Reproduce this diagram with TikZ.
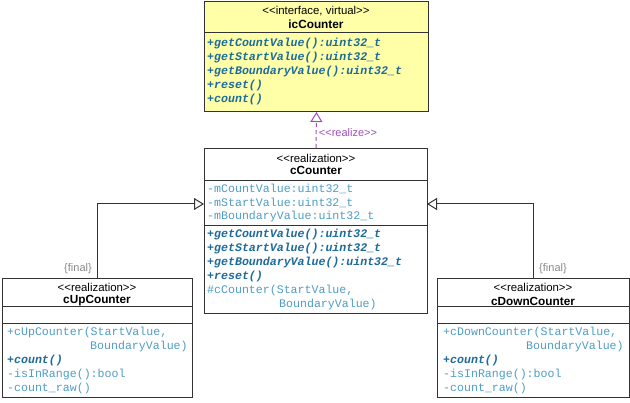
\documentclass[tikz,border=0pt]{standalone}
\usepackage{fontspec}
\setmainfont{Liberation Sans}
\setmonofont{Liberation Mono}
\usetikzlibrary{arrows.meta}
\definecolor{ifill}{HTML}{FFFFA8}
\definecolor{bordc}{HTML}{333333}
\definecolor{opc}{HTML}{1D6B9A}
\definecolor{atc}{HTML}{4F9DC6}
\definecolor{realc}{HTML}{9C4FB8}
\definecolor{finc}{HTML}{8A8A8A}
\newcommand\lguil{<\kern0pt<}
\newcommand\rguil{>\kern0pt>}
\tikzset{
 cls/.style={draw=bordc, line width=1pt, rectangle, inner sep=0pt, anchor=north west, fill=white},
 hdr/.style={font=\fontsize{11.4}{13}\selectfont, inner sep=0pt},
 hdrb/.style={font=\fontsize{11.8}{13}\selectfont\bfseries, inner sep=0pt},
 opr/.style={font=\ttfamily\bfseries\itshape\fontsize{11.6}{13}\selectfont, text=opc, anchor=west, inner sep=0pt},
 attr/.style={font=\ttfamily\fontsize{11.6}{13}\selectfont, text=atc, anchor=west, inner sep=0pt},
 sep/.style={draw=bordc, line width=1pt},
 gen/.style={draw=bordc, line width=1pt, -{Triangle[fill=white,length=10pt,width=12pt]}},
 real/.style={draw=realc, line width=1pt, dash pattern=on 4pt off 3pt, -{Triangle[fill=white,length=10pt,width=12pt]}},
 fin/.style={font=\fontsize{11}{13}\selectfont, text=finc, inner sep=0pt},
 reallab/.style={font=\fontsize{11}{13}\selectfont, text=realc, inner sep=0pt},
}
\begin{document}
\begin{tikzpicture}[x=1pt,y=-1pt]
\useasboundingbox[fill=white] (0,0) rectangle (630,403);
% boxes
\node[cls, fill=ifill, minimum width=224pt, minimum height=110pt] (ic) at (204,1) {};
\node[cls, minimum width=223pt, minimum height=165pt] (cC) at (204,148) {};
\node[cls, minimum width=190pt, minimum height=119pt] (cUp) at (2,278) {};
\node[cls, minimum width=192pt, minimum height=119pt] (cDown) at (437,278) {};
% compartments
\draw[sep] (204,33) -- (428,33);
\draw[sep] (204,181) -- (427,181);
\draw[sep] (204,226) -- (427,226);
\draw[sep] (2,307) -- (192,307);
\draw[sep] (2,324) -- (192,324);
\draw[sep] (437,307) -- (629,307);
\draw[sep] (437,324) -- (629,324);
% icCounter
\node[hdr] (icS) at (316,11) {\lguil interface, virtual\rguil};
\node[hdrb] (icN) at (316,24) {icCounter};
\node[opr] (ic1) at (207,44) {+getCountValue():uint32\_t};
\node[opr] (ic2) at (207,58) {+getStartValue():uint32\_t};
\node[opr] (ic3) at (207,72) {+getBoundaryValue():uint32\_t};
\node[opr] (ic4) at (207,86) {+reset()};
\node[opr] (ic5) at (207,100) {+count()};
% cCounter
\node[hdr] (cCS) at (316,158) {\lguil realization\rguil};
\node[hdrb] (cCN) at (316,170) {cCounter};
\node[attr] (cC1) at (207,189) {-mCountValue:uint32\_t};
\node[attr] (cC2) at (207,203) {-mStartValue:uint32\_t};
\node[attr] (cC3) at (207,217) {-mBoundaryValue:uint32\_t};
\node[opr] (cC4) at (207,235) {+getCountValue():uint32\_t};
\node[opr] (cC5) at (207,249) {+getStartValue():uint32\_t};
\node[opr] (cC6) at (207,263) {+getBoundaryValue():uint32\_t};
\node[opr] (cC7) at (207,277) {+reset()};
\node[attr] (cC8) at (207,291) {\#cCounter(StartValue,};
\node[attr] (cC9) at (279,305) {BoundaryValue)};
% cUpCounter
\node[hdr] (uS) at (97,287) {\lguil realization\rguil};
\node[hdrb] (uN) at (97,301) {cUpCounter};
\node[attr] (u1) at (7,333) {+cUpCounter(StartValue,};
\node[attr] (u2) at (90,347) {BoundaryValue)};
\node[opr] (u3) at (7,361) {+count()};
\node[attr] (u4) at (7,375) {-isInRange():bool};
\node[attr] (u5) at (7,389) {-count\_raw()};
% cDownCounter
\node[hdr] (dS) at (533,287) {\lguil realization\rguil};
\node[hdrb] (dN) at (533,301) {cDownCounter};
\node[attr] (d1) at (443,333) {+cDownCounter(StartValue,};
\node[attr] (d2) at (526,347) {BoundaryValue)};
\node[opr] (d3) at (443,361) {+count()};
\node[attr] (d4) at (443,375) {-isInRange():bool};
\node[attr] (d5) at (443,389) {-count\_raw()};
% connectors
\coordinate (cCl) at (204,204);
\coordinate (cCr) at (427,204);
\draw[gen] (cUp.north) |- (cCl);
\draw[gen] (cDown.north) |- (cCr);
\draw[real] (cC.north) -- (ic.south);
% labels
\node[fin] (f1) at (78,269) {\{final\}};
\node[fin] (f2) at (553,269) {\{final\}};
\node[reallab] (rl) at (348,133) {\lguil realize\rguil};
\end{tikzpicture}
\end{document}
